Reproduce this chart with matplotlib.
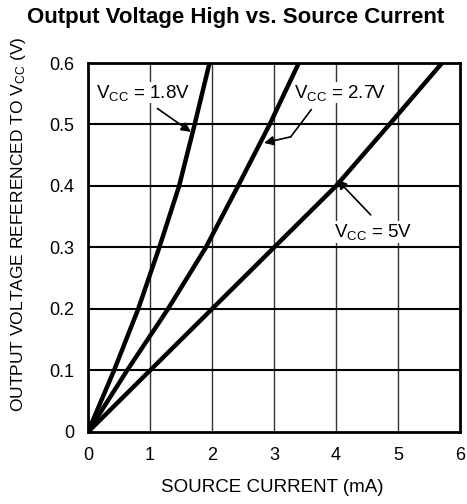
import matplotlib
matplotlib.use("Agg")
import matplotlib.pyplot as plt

plt.rcParams['font.family'] = ['Liberation Sans', 'DejaVu Sans']
plt.rcParams['mathtext.fontset'] = 'custom'
plt.rcParams['mathtext.rm'] = 'Liberation Sans'
plt.rcParams['mathtext.it'] = 'Liberation Sans'

# Data
v_out = [0.0, 0.1, 0.2, 0.3, 0.4, 0.5, 0.6]
i_18 = [0.0, 0.42, 0.81, 1.15, 1.47, 1.72, 1.96]
i_27 = [0.0, 0.63, 1.29, 1.90, 2.42, 2.93, 3.40]
i_50 = [0.0, 1.0, 2.0, 3.0, 4.0, 4.86, 5.71]

x_ticks = [0, 1, 2, 3, 4, 5, 6]
y_ticks = [0, 0.1, 0.2, 0.3, 0.4, 0.5, 0.6]
y_ticklabels = ['0', '0.1', '0.2', '0.3', '0.4', '0.5', '0.6']

fig = plt.figure(figsize=(4.67, 5.04), dpi=100)
ax = fig.add_axes([0.1884, 0.1429, 0.7966, 0.7321])

ax.set_xlim(0, 6)
ax.set_ylim(0, 0.6)
ax.set_xticks(x_ticks)
ax.set_yticks(y_ticks)
ax.set_yticklabels(y_ticklabels)
ax.tick_params(length=0, labelsize=13)
ax.tick_params(axis='x', pad=11)
ax.tick_params(axis='y', pad=10)

for x in x_ticks[1:-1]:
    ax.axvline(x, color='#333333', lw=1.0, zorder=1)
for y in y_ticks[1:-1]:
    ax.axhline(y, color='black', lw=1.5, zorder=1)

for s in ax.spines.values():
    s.set_linewidth(2.0)

for xs in (i_18, i_27, i_50):
    ax.plot(xs, v_out, color='black', lw=3.2, solid_capstyle='butt',
            solid_joinstyle='round', zorder=3)

arrow = dict(arrowstyle='-|>', color='black', lw=1.2, mutation_scale=14, shrinkA=0, shrinkB=0)
ax.annotate('', xy=(1.66, 0.488), xytext=(1.12, 0.526), arrowprops=arrow, zorder=4)
ax.text(0.13, 0.552, 'V$_{\\mathrm{CC}}$ = 1.8V', fontsize=13.5, va='center', ha='left',
        bbox=dict(facecolor='white', edgecolor='none', pad=0.5), zorder=5)

ax.plot([3.6, 3.27], [0.524, 0.480], color='black', lw=1.2, zorder=4)
ax.annotate('', xy=(2.84, 0.470), xytext=(3.27, 0.480), arrowprops=arrow, zorder=4)
ax.text(3.32, 0.552, 'V$_{\\mathrm{CC}}$ = 2.7V', fontsize=13.5, va='center', ha='left',
        bbox=dict(facecolor='white', edgecolor='none', pad=0.5), zorder=5)

ax.annotate('', xy=(4.02, 0.41), xytext=(4.56, 0.353), arrowprops=arrow, zorder=4)
ax.text(3.97, 0.325, 'V$_{\\mathrm{CC}}$ = 5V', fontsize=13.5, va='center', ha='left',
        bbox=dict(facecolor='white', edgecolor='none', pad=0.5), zorder=5)

fig.text(272 / 467, 1 - 488 / 504, 'SOURCE CURRENT (mA)', fontsize=13.5,
         ha='center', va='center')
fig.text(19 / 467, 1 - 224 / 504, 'OUTPUT VOLTAGE REFERENCED TO V$_{\\mathrm{CC}}$ (V)',
         fontsize=12.5, rotation=90, ha='center', va='center')
fig.text(0.505, 0.965, 'Output Voltage High vs. Source Current', fontsize=16,
         fontweight='bold', ha='center', va='center')

fig.savefig('out.png', dpi=100)
